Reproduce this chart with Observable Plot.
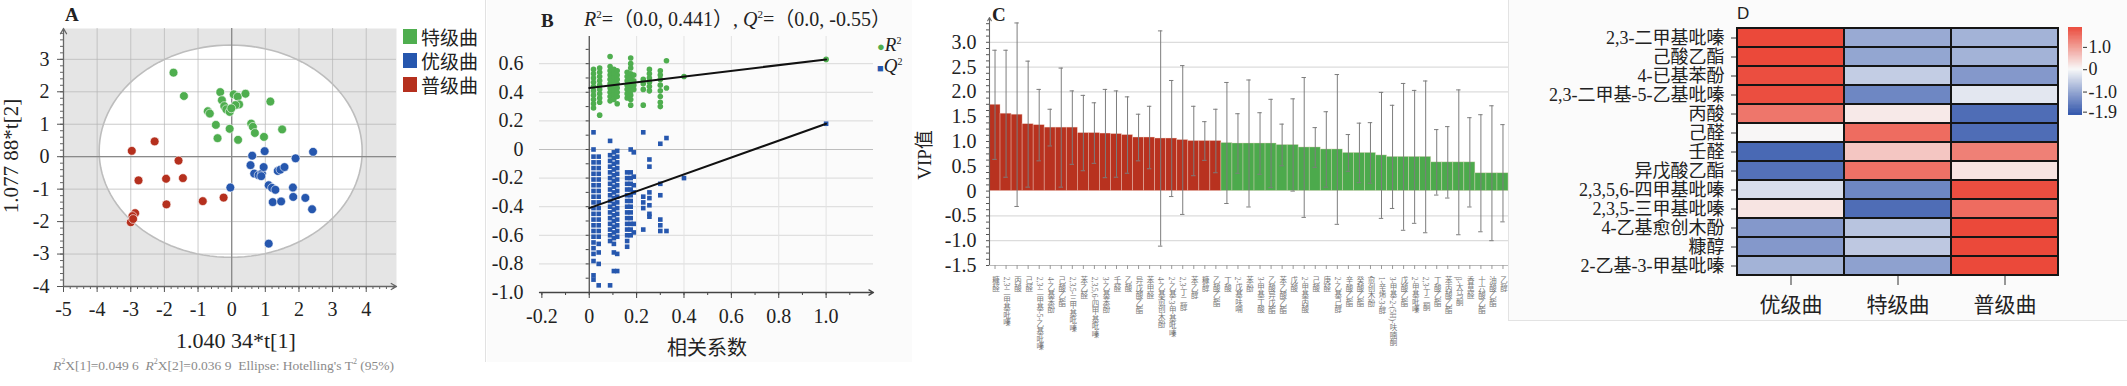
<!DOCTYPE html>
<html><head><meta charset="utf-8">
<script src="https://cdn.jsdelivr.net/npm/d3@7"></script>
<script src="https://cdn.jsdelivr.net/npm/@observablehq/plot@0.6"></script>
<style>
body{margin:0;background:#fff;}
#root{position:relative;width:2127px;height:386px;overflow:hidden;font-family:"Liberation Serif","Noto Sans CJK SC",serif;color:#222;background:#fff;}
.p{position:absolute;top:0;}
.t{position:absolute;white-space:nowrap;line-height:1;}
#pc svg g[aria-label="x-axis tick label"] text{writing-mode:vertical-rl;text-anchor:start;}
</style></head><body><div id="root"></div>
<script>
// ---------------- Panel A data (PCA scores) ----------------
const aGroups = ["特级曲", "优级曲", "普级曲"];
const aTeji = [[-1.73,2.59],[-1.42,1.87],[-0.34,1.99],[-0.29,1.74],[-0.22,1.56],[-0.16,1.46],[-0.06,1.38],[0.06,1.92],[0.18,1.85],[0.22,1.61],[0.41,1.94],[0.11,1.59],[-0.01,1.49],[-0.71,1.40],[-0.65,1.33],[-0.47,0.98],[-0.42,0.57],[-0.06,0.86],[0.19,0.52],[0.58,1.02],[0.63,0.92],[0.69,0.73],[0.96,0.61],[1.15,1.70],[1.50,0.84]];
const aYouji = [[0.61,0.03],[0.56,-0.26],[0.67,-0.52],[0.80,-0.57],[0.90,-0.52],[0.95,-0.32],[0.98,0.17],[1.10,-0.88],[1.20,-0.96],[1.30,-1.02],[1.37,-0.44],[1.45,-0.40],[1.57,-0.32],[1.22,-1.40],[1.47,-1.38],[1.82,-0.95],[1.83,-1.24],[1.90,-0.05],[2.19,-1.27],[2.39,-1.62],[2.42,0.15],[1.10,-2.68],[-0.04,-0.95],[0.88,-0.60]];
const aPuji = [[-2.97,0.18],[-2.29,0.47],[-1.58,-0.12],[-2.77,-0.73],[-1.95,-0.68],[-1.45,-0.66],[-1.94,-1.47],[-0.86,-1.37],[-0.24,-1.26],[-2.87,-1.74],[-2.95,-1.83],[-3.00,-2.02],[-2.93,-1.92]];
const aEllipse = {cx: -0.03, cy: 0.17, rx: 3.91, ry: 3.27};
const aXTicks = [-5,-4,-3,-2,-1,0,1,2,3,4];
const aYTicks = [3,2,1,0,-1,-2,-3,-4];

// ---------------- Panel B data (permutation test) ----------------
const bR2Cols = [
  [0.018,[0.56,0.53,0.50,0.47,0.44,0.41,0.38,0.35,0.32,0.29]],
  [0.044,[0.57,0.54,0.51,0.48,0.45,0.42,0.39,0.36,0.33,0.24]],
  [0.088,[0.65,0.58,0.55,0.52,0.49,0.46,0.43,0.40,0.37,0.34]],
  [0.104,[0.56,0.53,0.50,0.47,0.44,0.41,0.38,0.35]],
  [0.118,[0.55,0.52,0.49,0.46,0.43,0.40,0.37,0.32]],
  [0.160,[0.54,0.51,0.48,0.45,0.42,0.39,0.36]],
  [0.175,[0.64,0.60,0.57,0.53,0.50,0.47,0.44,0.41,0.38,0.35,0.31]],
  [0.188,[0.52,0.48,0.45,0.42]],
  [0.228,[0.49,0.46,0.42,0.31]],
  [0.254,[0.56,0.53,0.50,0.47,0.44,0.41]],
  [0.300,[0.55,0.52,0.49,0.45,0.41,0.37,0.33,0.30]],
  [0.326,[0.62,0.43]],
  [0.400,[0.51]],
  [1.000,[0.63]]
];
const bQ2Cols = [
  [0.018,[0.12,0.00,-0.05,-0.09,-0.13,-0.17,-0.21,-0.25,-0.29,-0.33,-0.37,-0.41,-0.45,-0.49,-0.53,-0.57,-0.61,-0.65,-0.69,-0.73,-0.78,-0.88,-0.91]],
  [0.040,[-0.05,-0.09,-0.13,-0.17,-0.21,-0.25,-0.29,-0.33,-0.37,-0.41,-0.45,-0.49,-0.53,-0.57,-0.61,-0.66,-0.72,-0.80,-0.95]],
  [0.088,[0.06,-0.04,-0.08,-0.12,-0.16,-0.20,-0.24,-0.28,-0.32,-0.36,-0.40,-0.44,-0.48,-0.52,-0.56,-0.60,-0.64,-0.95]],
  [0.104,[-0.02,-0.06,-0.10,-0.14,-0.18,-0.22,-0.26,-0.30,-0.34,-0.38,-0.42,-0.46,-0.50,-0.54,-0.58,-0.62,-0.66,-0.72,-0.85]],
  [0.118,[-0.01,-0.05,-0.09,-0.13,-0.17,-0.21,-0.25,-0.29,-0.33,-0.37,-0.41,-0.45,-0.49,-0.53,-0.57,-0.61,-0.73,-0.85]],
  [0.160,[-0.16,-0.20,-0.24,-0.28,-0.32,-0.36,-0.40,-0.44,-0.48,-0.52,-0.56,-0.60,-0.64,-0.68]],
  [0.175,[0.00,-0.16,-0.20,-0.24,-0.28,-0.32,-0.36,-0.40,-0.44,-0.48,-0.52,-0.56,-0.60]],
  [0.188,[-0.02,-0.19,-0.25,-0.30,-0.52,-0.58]],
  [0.228,[0.12,-0.33,-0.37,-0.41,-0.56]],
  [0.254,[-0.07,-0.12,-0.30,-0.34,-0.39,-0.45,-0.47]],
  [0.300,[0.04,-0.24,-0.32,-0.49,-0.53,-0.57]],
  [0.326,[0.08,-0.57]],
  [0.400,[-0.20]],
  [1.000,[0.18]]
];
const bR2Line = [[0, 0.43], [1, 0.63]];
const bQ2Line = [[0, -0.41], [1, 0.18]];
const bXTicks = [-0.2, 0, 0.2, 0.4, 0.6, 0.8, 1.0];
const bYTicks = [0.6, 0.4, 0.2, 0, -0.2, -0.4, -0.6, -0.8, -1.0];

// ---------------- Panel C data (VIP) ----------------
const cNamesRed = ["糠醛","2,3-二甲基吡嗪","丙酸","己醛","2,3-二甲基-5-乙基吡嗪","4-乙基苯酚","己酸乙酯","2,3,5-三甲基吡嗪","苯乙醛","2,3,5,6-四甲基吡嗪","3-乙基苯酚","壬醛","乙酸","异戊酸乙酯","苯甲醛","4-乙基愈创木酚","2-乙基-3-甲基吡嗪","2,3-丁二醇","苯乙醇","糠醇","乙酸乙酯"];
const cVipRed = [1.74,1.56,1.54,1.35,1.33,1.28,1.28,1.28,1.17,1.17,1.16,1.15,1.13,1.08,1.08,1.06,1.06,1.03,1.01,1.01,1.01];
const cErrRed = [1.10,1.28,1.85,1.27,0.72,0.37,1.20,0.74,0.76,0.61,0.89,0.87,0.77,0.47,0.63,2.17,1.17,1.50,0.70,0.39,0.64];
const cNamesGreen = ["丁酸","2-戊基呋喃","苯酚","3-甲基丁酸","乙酸异戊酯","苯乙酸乙酯","戊酸","2-甲基丙酸","己酸","庚醛","2-乙基己醇","辛酸乙酯","癸酸乙酯","愈创木酚","1-辛烯-3-醇","3-甲基-2-(5H)-呋喃酮","戊酸乙酯","2-甲基吡嗪","2,3-丁二酮","丁酸乙酯","苯丙酸乙酯","β-大马酮","香草醛","十六酸乙酯","油酸乙酯","乙醇"];
const cVipGreen = [0.97,0.96,0.96,0.96,0.96,0.93,0.93,0.88,0.88,0.84,0.84,0.77,0.77,0.77,0.72,0.69,0.69,0.69,0.69,0.58,0.58,0.58,0.58,0.36,0.36,0.36];
const cErrGreen = [1.22,0.60,1.28,0.62,0.89,0.42,0.93,1.41,0.40,0.76,1.51,0.37,0.60,0.61,1.27,1.04,1.48,1.34,1.53,0.66,0.72,1.46,0.90,1.18,1.36,0.98];
const cYTicks = [3.0,2.5,2.0,1.5,1.0,0.5,0,-0.5,-1.0,-1.5];
const cGrid = [3.0,2.5,2.0,-0.5,-1.0];

// ---------------- Panel D data (heatmap) ----------------
const dCols = ["优级曲","特级曲","普级曲"];
const dRows = ["2,3-二甲基吡嗪","己酸乙酯","4-已基苯酚","2,3-二甲基-5-乙基吡嗪","丙酸","己醛","壬醛","异戊酸乙酯","2,3,5,6-四甲基吡嗪","2,3,5-三甲基吡嗪","4-乙基愈创木酚","糠醇","2-乙基-3-甲基吡嗪"];
const dYouji = [1.75,1.75,1.70,1.70,1.30,0.02,-1.65,-1.55,-0.30,0.20,-1.10,-1.10,-0.80];
const dTeji  = [-0.90,-0.95,-0.50,-1.30,0.15,1.40,0.50,1.35,-1.30,-1.60,-0.60,-0.55,-1.00];
const dPuji  = [-0.80,-0.80,-1.10,-0.20,-1.60,-1.60,1.20,0.20,1.70,1.40,1.75,1.75,1.75];
const dScale = [-2.05, 0, 1.89];
const dTicks = [1.0, 0, -1.0, -1.9];

// ---------------- colours / fonts ----------------
const serif = '"Liberation Serif","Noto Sans CJK SC",serif';
const GREEN = "#4fae4f", BLUE = "#2657ae", RED = "#b5301e";
const CRED = "#b8321f", CGREEN = "#4caa4c";
const root = document.getElementById("root");
const fmt1 = d => d === 0 ? "0" : d.toFixed(1);

function place(node, left, top, cls, id) {
  const div = document.createElement("div");
  div.className = cls || "p";
  if (id) div.id = id;
  div.style.left = left + "px";
  div.style.top = top + "px";
  div.appendChild(node);
  root.appendChild(div);
  return div;
}
function text(html, left, top, style) {
  const div = document.createElement("div");
  div.className = "t";
  div.innerHTML = html;
  div.style.left = left + "px";
  div.style.top = top + "px";
  Object.assign(div.style, style || {});
  root.appendChild(div);
  return div;
}
function box(left, top, w, h, style) {
  const div = document.createElement("div");
  div.style.position = "absolute";
  div.style.left = left + "px"; div.style.top = top + "px";
  div.style.width = w + "px"; div.style.height = h + "px";
  Object.assign(div.style, style || {});
  root.appendChild(div);
}

// panel backgrounds / separators
box(487, 0, 425, 362, {background: "#fbfbfb"});
box(485, 0, 1, 362, {background: "#e2e2e2"});
box(1508, 0, 619, 320, {background: "#fbfbfb", borderLeft: "1px solid #e3e3e3", borderBottom: "1px solid #e3e3e3"});

// ================= Panel A =================
const aPts = [
  ...aTeji.map(p => ({x: p[0], y: p[1], g: aGroups[0]})),
  ...aYouji.map(p => ({x: p[0], y: p[1], g: aGroups[1]})),
  ...aPuji.map(p => ({x: p[0], y: p[1], g: aGroups[2]}))
];
const aEll = d3.range(0, 361, 3).map(a => ({
  x: aEllipse.cx + aEllipse.rx * Math.cos(a * Math.PI / 180),
  y: aEllipse.cy + aEllipse.ry * Math.sin(a * Math.PI / 180)
}));
const aXd = [-5, 4.9], aYd = [-4, 3.95];
const plotA = Plot.plot({
  width: 485, height: 386, marginLeft: 63, marginRight: 89, marginTop: 28, marginBottom: 100,
  style: {fontFamily: serif, fontSize: "20px", color: "#222", background: "transparent"},
  x: {domain: aXd, label: null},
  y: {domain: aYd, label: null},
  color: {domain: aGroups, range: [GREEN, BLUE, RED]},
  marks: [
    Plot.frame({fill: "#e5e5e5", stroke: null}),
    Plot.line(aEll, {x: "x", y: "y", fill: "white", stroke: "none"}),
    Plot.gridX(aXTicks.filter(d => d > -5), {stroke: "#b5b5b5", strokeOpacity: 0.7}),
    Plot.gridY(aYTicks.filter(d => d > -4), {stroke: "#b5b5b5", strokeOpacity: 0.7}),
    Plot.line(aEll, {x: "x", y: "y", stroke: "#bdbdbd", strokeWidth: 1.6}),
    Plot.ruleX([0], {stroke: "#8a8a8a", strokeWidth: 1.3}),
    Plot.ruleY([0], {stroke: "#8a8a8a", strokeWidth: 1.3}),
    Plot.axisX({ticks: d3.range(-5, 4.81, 0.2), tickSize: 3, tickFormat: () => "", stroke: "#666", label: null}),
    Plot.axisY({ticks: d3.range(-4, 3.81, 0.2), tickSize: 3, tickFormat: () => "", stroke: "#666", label: null}),
    Plot.axisX({ticks: aXTicks, tickSize: 6, tickPadding: 9, tickFormat: d => String(d), fontSize: 20, stroke: "#555", label: null}),
    Plot.axisY({ticks: aYTicks, tickSize: 6, tickPadding: 8, tickFormat: d => String(d), fontSize: 20, stroke: "#555", label: null}),
    Plot.arrow([0], {x1: () => aXd[0], y1: () => aYd[0], x2: () => aXd[0], y2: () => aYd[1], stroke: "#666", strokeWidth: 1.3, headLength: 7}),
    Plot.arrow([0], {x1: () => aXd[0], y1: () => aYd[0], x2: () => aXd[1], y2: () => aYd[0], stroke: "#666", strokeWidth: 1.3, headLength: 7}),
    Plot.dot(aPts, {x: "x", y: "y", fill: "g", r: 4.4, stroke: "white", strokeWidth: 0.6})
  ]
});
place(plotA, 0, 0);
text("A", 65, 5, {fontSize: "19px", fontWeight: "bold"});
aGroups.forEach((g, i) => {
  box(403, 29 + i * 24, 14, 15, {background: [GREEN, BLUE, RED][i]});
  text(g, 421, 28 + i * 24, {fontSize: "19px", lineHeight: "18px", fontFamily: '"Noto Sans CJK SC",sans-serif'});
});
text("1.040 34*t[1]", 176, 330, {fontSize: "22px"});
text("1.077 88*t[2]", -48, 145, {fontSize: "21px", transform: "rotate(-90deg)", transformOrigin: "60px 11px", width: "120px", textAlign: "center"});
text("<i>R</i><sup style='font-size:8px'>2</sup>X[1]=0.049 6&nbsp; <i>R</i><sup style='font-size:8px'>2</sup>X[2]=0.036 9&nbsp; Ellipse: Hotelling's T<sup style='font-size:8px'>2</sup> (95%)", 53, 358, {fontSize: "13.5px", color: "#8a8a8a"});

// ================= Panel B =================
const bR2 = bR2Cols.flatMap(([x, ys]) => ys.map(y => ({x, y})));
const bQ2 = bQ2Cols.flatMap(([x, ys]) => ys.map(y => ({x, y})));
const bXd = [-0.21, 1.2], bYd = [-1.0, 0.79];
const plotB = Plot.plot({
  width: 430, height: 386, marginLeft: 54, marginRight: 42, marginTop: 36, marginBottom: 94,
  style: {fontFamily: serif, fontSize: "20px", color: "#222", background: "transparent"},
  x: {domain: bXd, label: null},
  y: {domain: bYd, label: null},
  marks: [
    Plot.gridY(bYTicks.filter(d => d !== -1 && d !== 0), {stroke: "#d9d9d9", strokeOpacity: 1}),
    Plot.gridX(bXTicks.filter(d => d > 0), {stroke: "#e2e2e2", strokeOpacity: 1}),
    Plot.ruleY([0], {stroke: "#bdbdbd", strokeWidth: 1.2}),
    Plot.ruleX([0], {stroke: "#444", strokeWidth: 1.2}),
    Plot.ruleY(d3.range(-1.0, 0.76, 0.1), {y: d => d, x1: 0, x2: () => -0.013, stroke: "#444"}),
    Plot.axisY({ticks: bYTicks, tickSize: 0, tickPadding: 16, tickFormat: fmt1, fontSize: 20, label: null}),
    Plot.axisX({ticks: d3.range(-0.2, 1.15, 0.1), tickSize: 3, tickFormat: () => "", stroke: "#444", label: null}),
    Plot.axisX({ticks: bXTicks, tickSize: 6, tickPadding: 10, tickFormat: fmt1, fontSize: 20, stroke: "#444", label: null}),
    Plot.arrow([0], {x1: () => bXd[0], y1: () => bYd[0], x2: () => bXd[1], y2: () => bYd[0], stroke: "#444", strokeWidth: 1.3, headLength: 6}),
    Plot.dot(bQ2, {x: "x", y: "y", symbol: "square", r: 2.6, fill: BLUE}),
    Plot.dot(bR2, {x: "x", y: "y", r: 2.8, fill: GREEN}),
    Plot.line(bR2Line, {x: d => d[0], y: d => d[1], stroke: "#111", strokeWidth: 2}),
    Plot.line(bQ2Line, {x: d => d[0], y: d => d[1], stroke: "#111", strokeWidth: 2})
  ]
});
place(plotB, 485, 0);
text("B", 541, 11, {fontSize: "19px", fontWeight: "bold"});
text("<i>R</i><sup style='font-size:11px'>2</sup>=（0.0, 0.441）, <i>Q</i><sup style='font-size:11px'>2</sup>=（0.0, -0.55）", 584, 9, {fontSize: "20px"});
text("<span style='color:" + GREEN + ";font-size:13px'>●</span><i>R</i><sup style='font-size:10px'>2</sup>", 877, 35, {fontSize: "19px"});
text("<span style='color:" + BLUE + ";font-size:11px'>■</span><i>Q</i><sup style='font-size:10px'>2</sup>", 877, 56, {fontSize: "19px"});
text("相关系数", 667, 337, {fontSize: "20px", fontFamily: '"Noto Sans CJK SC",sans-serif'});

// ================= Panel C =================
const cNames = [...cNamesRed, ...cNamesGreen];
const cKeys = ["VIP>1", "VIP<1"];
const cData = [
  ...cVipRed.map((v, i) => ({i, v, e: cErrRed[i], k: cKeys[0]})),
  ...cVipGreen.map((v, j) => ({i: cVipRed.length + j, v, e: cErrGreen[j], k: cKeys[1]}))
];
const cN = cData.length;
const cYd = [-1.5, 3.5];
const plotC = Plot.plot({
  width: 600, height: 386, marginLeft: 74, marginRight: 7, marginTop: 17, marginBottom: 121,
  style: {fontFamily: serif, fontSize: "20px", color: "#222", background: "transparent"},
  x: {domain: [0, cN], label: null},
  y: {domain: cYd, label: null},
  color: {domain: cKeys, range: [CRED, CGREEN]},
  marks: [
    Plot.ruleY(cGrid, {stroke: "#dcdcdc", strokeWidth: 1.3}),
    Plot.rectY(cData, {x1: "i", x2: d => d.i + 1, y1: 0, y2: "v", fill: "k", stroke: "#f6dccf", strokeWidth: 0.7, strokeOpacity: 0.5}),
    Plot.ruleX(cData, {x: d => d.i + 0.5, y1: d => d.v - d.e, y2: d => d.v + d.e, stroke: "#7d7d7d", strokeWidth: 1}),
    Plot.ruleY(cData, {y: d => d.v + d.e, x1: d => d.i + 0.3, x2: d => d.i + 0.7, stroke: "#7d7d7d"}),
    Plot.ruleY(cData, {y: d => d.v - d.e, x1: d => d.i + 0.3, x2: d => d.i + 0.7, stroke: "#7d7d7d"}),
    Plot.axisY({ticks: d3.range(-1.5, 3.41, 0.125), tickSize: 3, tickFormat: () => "", stroke: "#555", label: null}),
    Plot.axisY({ticks: cYTicks, tickSize: 0, tickPadding: 13, tickFormat: fmt1, fontSize: 20, label: null}),
    Plot.arrow([0], {x1: 0, y1: () => cYd[0], x2: 0, y2: () => cYd[1], stroke: "#666", strokeWidth: 1.1, headLength: 5}),
    Plot.ruleY([cYd[0]], {stroke: "#bbb", strokeWidth: 1.2}),
    Plot.axisX({ticks: d3.range(cN).map(i => i + 0.5), tickFormat: t => cNames[Math.floor(t)], tickSize: 4, tickPadding: 2, fontSize: 7.5, fill: "#777", stroke: "#999", label: null})
  ]
});
place(plotC, 915, 0, "p", "pc");
text("C", 992, 5, {fontSize: "19px", fontWeight: "bold"});
text("VIP值", 895, 145, {fontSize: "19px", transform: "rotate(-90deg)", transformOrigin: "30px 10px", width: "60px", textAlign: "center"});

// ================= Panel D =================
const dData = dRows.flatMap((r, i) => [
  {row: r, col: dCols[0], v: dYouji[i]},
  {row: r, col: dCols[1], v: dTeji[i]},
  {row: r, col: dCols[2], v: dPuji[i]}
]);
const dColor = {type: "linear", domain: dScale, range: ["#1f46a4", "#f8f8f8", "#ea3b2b"]};
const plotD = Plot.plot({
  width: 622, height: 386, marginLeft: 231, marginRight: 69, marginTop: 27, marginBottom: 110,
  style: {fontFamily: serif, fontSize: "20px", color: "#222", background: "transparent"},
  x: {domain: dCols, padding: 0, label: null},
  y: {domain: dRows, padding: 0, label: null},
  color: dColor,
  marks: [
    Plot.cell(dData, {x: "col", y: "row", fill: "v", inset: 0, stroke: "#151515", strokeWidth: 2}),
    Plot.axisY({tickSize: 5, tickPadding: 7, fontSize: 18, stroke: "#333", label: null}),
    Plot.axisX({tickSize: 9, tickPadding: 12, fontSize: 21, stroke: "#333", label: null})
  ]
});
place(plotD, 1505, 0);
text("D", 1737, 5, {fontSize: "17px", fontFamily: '"Liberation Sans",sans-serif'});

// colour bar
const cbStep = 0.02;
const cbVals = d3.range(dScale[0], dScale[2], cbStep);
const plotCB = Plot.plot({
  width: 67, height: 130, marginLeft: 8, marginRight: 45, marginTop: 27, marginBottom: 15,
  style: {fontFamily: serif, fontSize: "17px", color: "#222", background: "transparent"},
  x: {domain: [0, 1], axis: null},
  y: {domain: [dScale[0], dScale[2]], label: null},
  color: dColor,
  marks: [
    Plot.rect(cbVals, {x1: 0, x2: 1, y1: d => d, y2: d => Math.min(d + cbStep * 1.6, dScale[2]), fill: d => d}),
    Plot.axisY({anchor: "right", ticks: dTicks, tickFormat: fmt1, tickSize: 4, tickPadding: 2, fontSize: 18, stroke: "#333", label: null})
  ]
});
place(plotCB, 2060, 0);
</script></body></html>
